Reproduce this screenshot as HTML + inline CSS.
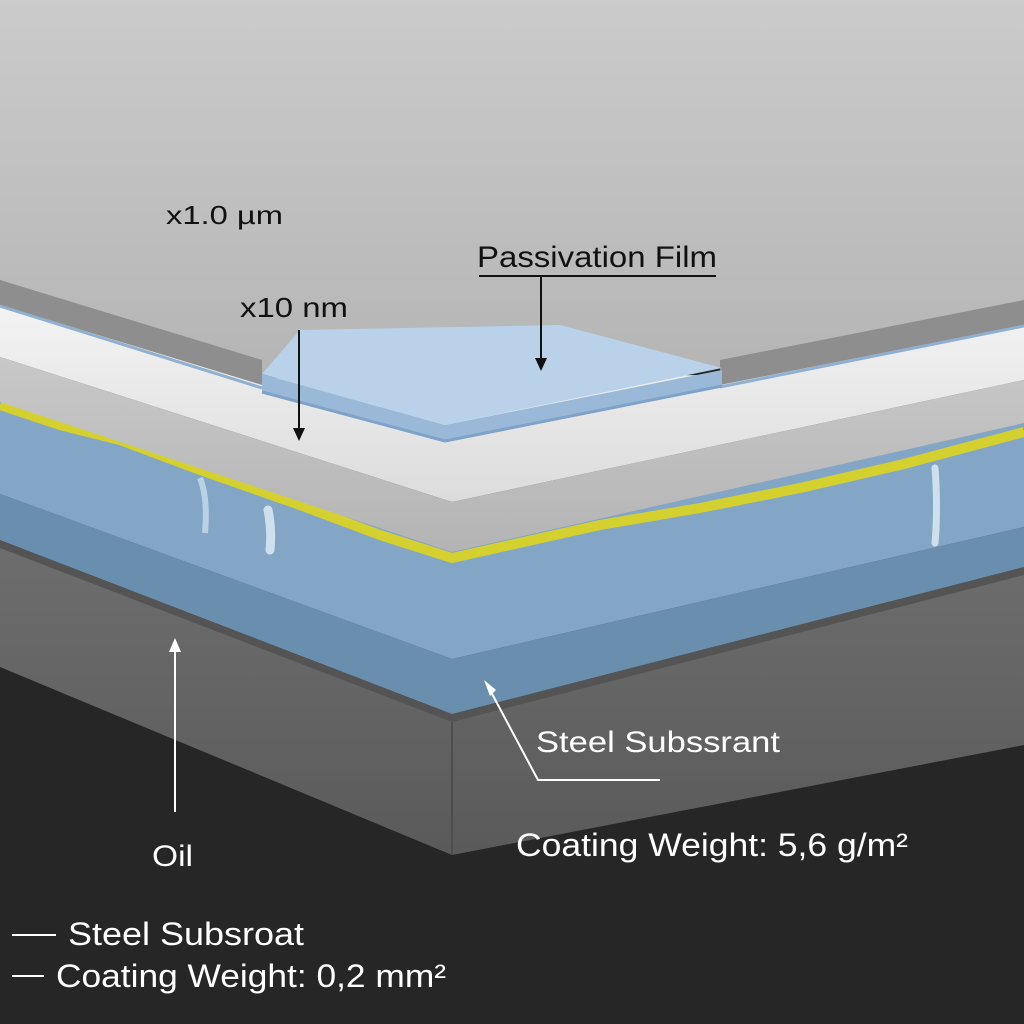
<!DOCTYPE html>
<html><head><meta charset="utf-8"><style>
html,body{margin:0;padding:0;background:#262626}
svg{display:block}
text{font-family:"Liberation Sans",sans-serif}
</style></head><body>
<svg width="1024" height="1024" viewBox="0 0 1024 1024" xmlns="http://www.w3.org/2000/svg">
<defs>
<linearGradient id="top" x1="0" y1="0" x2="0" y2="1">
<stop offset="0" stop-color="#cbcbcb"/><stop offset="1" stop-color="#b5b5b5"/></linearGradient>
<linearGradient id="white" x1="0" y1="0" x2="0" y2="1">
<stop offset="0" stop-color="#f4f4f4"/><stop offset="1" stop-color="#dcdcdc"/></linearGradient>
<linearGradient id="face" x1="0" y1="0" x2="0" y2="1">
<stop offset="0" stop-color="#c8c8c8"/><stop offset="1" stop-color="#b4b4b4"/></linearGradient>
<linearGradient id="steel" x1="0" y1="0" x2="0" y2="1">
<stop offset="0" stop-color="#6e6e6e"/><stop offset="1" stop-color="#5a5a5a"/></linearGradient>
</defs>
<rect width="1024" height="1024" fill="#262626"/>
<!-- steel block -->
<polygon points="0,540 452,714 1024,567 1024,745 452,855 0,667" fill="url(#steel)"/>
<polygon points="0,540 452,714 1024,567 1024,575 452,722 0,548" fill="#545454"/>
<line x1="452" y1="722" x2="452" y2="855" stroke="#4d4d4d" stroke-width="2"/>
<!-- dark blue layer -->
<polygon points="0,494 452,659 1024,527 1024,567 452,714 0,540" fill="#6a8fae"/>
<!-- foam -->
<polygon points="0,400 452,550 1024,421 1024,527 452,659 0,494" fill="#84a6c6"/>
<!-- yellow line -->
<polyline points="0,405 60,425 120,440 200,470 300,505 380,535 452,558 600,525 700,508 800,488 900,465 1024,432" fill="none" stroke="#d4d030" stroke-width="10" stroke-linejoin="round"/>
<!-- white layer face -->
<polygon points="0,357 452,502 1024,380 1024,423 452,552 0,402" fill="url(#face)"/>
<!-- white top surface -->
<polygon points="0,300 262,378 720,375 1024,312 1024,380 452,502 0,357" fill="url(#white)"/>
<!-- top plate -->
<polygon points="0,0 1024,0 1024,312 720,368 262,374 0,280" fill="url(#top)"/>
<polygon points="0,280 262,360 262,385 0,305" fill="#8e8e8e"/>
<polygon points="720,360 1024,300 1024,325 720,385" fill="#8e8e8e"/>
<line x1="0" y1="306" x2="262" y2="388" stroke="#8fb0d0" stroke-width="3"/>
<line x1="720" y1="387" x2="1024" y2="326" stroke="#8fb0d0" stroke-width="3"/>
<!-- passivation film -->
<polygon points="262,374 262,392 445,441 722,386 722,370 445,425" fill="#9ab8d8"/>
<polygon points="262,374 300,330 560,325 722,368 445,425" fill="#b9d2ea"/>
<line x1="262" y1="392" x2="445" y2="441" stroke="#7fa2c8" stroke-width="3"/>
<line x1="445" y1="441" x2="722" y2="386" stroke="#7fa2c8" stroke-width="3"/>
<!-- drips -->
<path d="M200,478 q8,20 5,55" stroke="#c8dcec" stroke-width="6" fill="none" opacity=".8"/>
<path d="M268,510 q4,20 2,40" stroke="#d6e6f2" stroke-width="9" fill="none" stroke-linecap="round" opacity=".9"/>
<path d="M935,468 q3,40 0,75" stroke="#d6e6f2" stroke-width="7" fill="none" stroke-linecap="round" opacity=".9"/>
<!-- labels -->
<text x="166" y="224" font-size="26" fill="#111" textLength="117" lengthAdjust="spacingAndGlyphs">x1.0 µm</text>
<text x="477" y="267" font-size="30" fill="#111" textLength="240" lengthAdjust="spacingAndGlyphs">Passivation Film</text>
<line x1="479" y1="276" x2="716" y2="276" stroke="#111" stroke-width="2"/>
<line x1="541" y1="276" x2="541" y2="360" stroke="#111" stroke-width="2"/>
<polygon points="535,358 547,358 541,371" fill="#111"/>
<text x="240" y="317" font-size="28" fill="#111" textLength="108" lengthAdjust="spacingAndGlyphs">x10 nm</text>
<line x1="299" y1="330" x2="299" y2="430" stroke="#111" stroke-width="2"/>
<polygon points="293,428 305,428 299,441" fill="#111"/>
<line x1="175" y1="650" x2="175" y2="812" stroke="#fff" stroke-width="2"/>
<polygon points="169,652 181,652 175,638" fill="#fff"/>
<text x="152" y="866" font-size="30" fill="#fff" textLength="41" lengthAdjust="spacingAndGlyphs">Oil</text>
<polyline points="490,690 538,780 660,780" fill="none" stroke="#fff" stroke-width="2"/>
<polygon points="484,680 496,690 490,696" fill="#fff"/>
<text x="536" y="752" font-size="30" fill="#fff" textLength="244" lengthAdjust="spacingAndGlyphs">Steel Subssrant</text>
<text x="516" y="856" font-size="32" fill="#fff" textLength="392" lengthAdjust="spacingAndGlyphs">Coating Weight: 5,6 g/m²</text>
<line x1="12" y1="935" x2="56" y2="935" stroke="#fff" stroke-width="2"/>
<text x="68" y="945" font-size="32" fill="#fff" textLength="236" lengthAdjust="spacingAndGlyphs">Steel Subsroat</text>
<line x1="12" y1="976" x2="44" y2="976" stroke="#fff" stroke-width="2"/>
<text x="56" y="987" font-size="32" fill="#fff" textLength="390" lengthAdjust="spacingAndGlyphs">Coating Weight: 0,2 mm²</text>
</svg>
</body></html>
